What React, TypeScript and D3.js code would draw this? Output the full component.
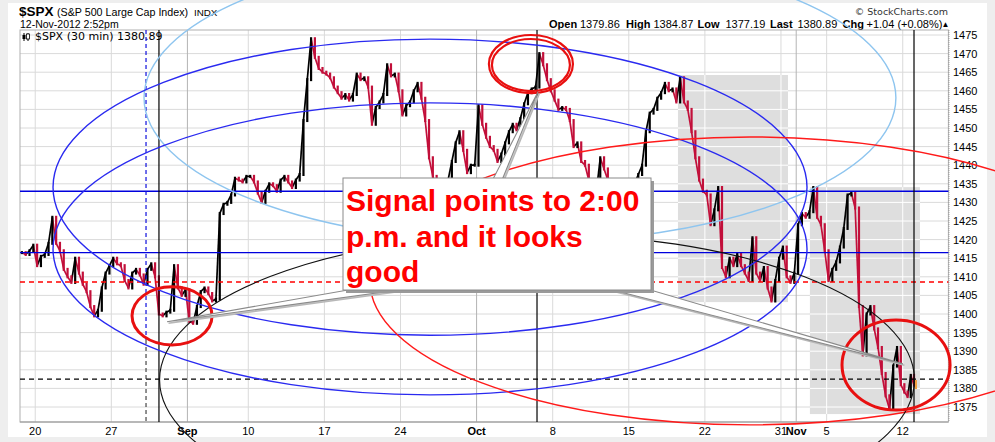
import React from 'react';
import * as d3 from 'd3';

// trading sessions shown (MM-DD, 2012); Oct 29-30 closed (Sandy)
const tradingDays = [
  '08-17',
  '08-20', '08-21', '08-22', '08-23', '08-24',
  '08-27', '08-28', '08-29', '08-30', '08-31',
  '09-04', '09-05', '09-06', '09-07',
  '09-10', '09-11', '09-12', '09-13', '09-14',
  '09-17', '09-18', '09-19', '09-20', '09-21',
  '09-24', '09-25', '09-26', '09-27', '09-28',
  '10-01', '10-02', '10-03', '10-04', '10-05',
  '10-08', '10-09', '10-10', '10-11', '10-12',
  '10-15', '10-16', '10-17', '10-18', '10-19',
  '10-22', '10-23', '10-24', '10-25', '10-26',
  '10-31',
  '11-01', '11-02',
  '11-05', '11-06', '11-07', '11-08', '11-09',
  '11-12',
];

// four intraday readings per session (30 min bars grouped)
const prices = [
  [1416.5, 1416, 1417, 1418.5],
  [1413, 1415.5, 1416, 1419],
  [1426, 1419, 1417, 1412],
  [1410, 1408.5, 1415, 1411],
  [1408, 1406, 1402, 1399.5],
  [1401, 1407, 1411, 1413],
  [1415, 1413.5, 1413, 1409],
  [1407, 1411, 1412, 1410.5],
  [1408, 1412, 1413.5, 1410],
  [1400, 1399.5, 1400.5, 1401],
  [1413, 1407, 1405, 1406.5],
  [1398, 1397.5, 1402, 1406],
  [1407, 1405.5, 1403.5, 1404],
  [1427, 1429.5, 1430, 1432],
  [1436.5, 1436, 1435.5, 1437],
  [1437, 1435.5, 1432.5, 1430],
  [1433, 1435, 1434.5, 1433],
  [1436, 1437, 1435.5, 1434],
  [1436, 1437.5, 1452, 1463],
  [1474, 1469, 1466, 1465],
  [1464.5, 1463.5, 1461, 1459.5],
  [1458, 1459, 1457.5, 1459],
  [1464.5, 1463, 1463.5, 1461],
  [1451, 1455.5, 1457, 1459],
  [1467, 1464, 1464.5, 1460],
  [1453.5, 1456, 1457, 1460],
  [1462, 1458, 1452, 1442],
  [1437, 1434, 1432, 1433.5],
  [1436, 1441, 1446, 1449],
  [1444, 1438, 1440, 1440],
  [1456, 1451, 1447.5, 1445],
  [1444, 1441, 1443, 1446],
  [1449, 1451, 1449.5, 1452.5],
  [1456.5, 1459.5, 1460.5, 1461],
  [1470, 1467, 1463, 1460],
  [1457.5, 1455, 1455.5, 1455],
  [1452, 1445, 1446, 1441],
  [1440, 1436, 1434, 1433],
  [1442, 1439, 1436, 1433],
  [1436, 1432, 1429, 1428.5],
  [1431, 1435, 1437.5, 1440],
  [1449, 1454, 1455, 1458],
  [1459.5, 1462, 1460, 1460.5],
  [1457, 1463.5, 1457, 1455],
  [1449, 1442, 1436, 1433],
  [1432, 1424, 1428, 1434],
  [1412.5, 1410, 1415, 1413],
  [1416, 1413, 1411, 1409],
  [1420.5, 1411, 1409, 1412.5],
  [1407, 1403.5, 1409, 1415],
  [1418, 1410, 1408.5, 1411],
  [1424, 1427, 1426, 1427.5],
  [1434, 1426, 1424, 1417],
  [1409, 1412, 1414, 1418],
  [1423, 1432, 1432.5, 1428.5],
  [1402, 1389, 1400, 1402],
  [1396, 1391, 1384, 1378],
  [1374.5, 1386, 1391, 1381],
  [1379, 1377.8, 1383.5, 1380.9],
];
const barsPerSession = 13;
const barsLastSession = 11;

const tickDays = ['08-20', '08-27', '09-04', '09-10', '09-17', '09-24', '10-01', '10-08', '10-15', '10-22', '10-31', '11-01', '11-05', '11-12'];
const tickLabels = ['20', '27', 'Sep', '10', '17', '24', 'Oct', '8', '15', '22', '31', 'Nov', '5', '12'];
const priceTicks = d3.range(1375, 1476, 5);

// annotations, in chart units: [session, price, half-sessions, half-points]
const lightBlueEllipse = [32.85, 1458.1, 24.7, 39.0];
const blueEllipses = [
  [26.94, 1434.1, 24.77, 39.8],
  [26.94, 1417.5, 24.77, 39.25],
];
const redEllipse = [47.96, 1408.9, 24.97, 38.7];
const blackEllipse = [33.97, 1382.3, 24.8, 39.25];
const circled = [
  [9.99, 1399.5, 2.63, 7.8],
  [33.57, 1467.2, 2.76, 7.8],
  [57.56, 1386.3, 3.55, 12.1],
];
const levelPrices = [1433, 1416.5, 1408.6, 1382.5];
const markerSessions = [8.28, 9.13, 33.97, 58.74];
// shaded zones: [from session, to session, top price, bottom price]
const zones = [
  [43.23, 50.46, 1464.25, 1403.2],
  [51.9, 59.13, 1434.1, 1373.1],
];
const calloutTips = [
  [9.66, 1397.9],
  [34.03, 1459.7],
  [58.01, 1386.6],
];
const calloutLines = ['Signal points to 2:00', 'p.m. and it looks', 'good'];

const SANS = 'Liberation Sans, Arial, sans-serif';
const VERD = 'DejaVu Sans, Verdana, sans-serif';

export default function App() {
  const left = 20, right = 948.4, top = 30, bottom = 422;
  const x = d3.scaleLinear().domain([0, 61]).range([left, right]);
  const y = d3.scaleLinear().domain([1375, 1475]).range([407, 35]);

  const samples = prices.flatMap((day, i) => {
    const frac = i === prices.length - 1 ? barsLastSession / barsPerSession : 1;
    return day.map((p, k) => ({ t: i + ((k + 0.5) / day.length) * frac, p }));
  });
  const bw = 2.2;

  const ell = (e: number[]) => ({
    cx: x(e[0]),
    cy: y(e[1]),
    rx: x(e[0] + e[2]) - x(e[0]),
    ry: y(e[1] - e[3]) - y(e[1]),
  });

  const dayX = (d: string) => x(tradingDays.indexOf(d));
  const vGrid = tickDays.map((d, i) => ({ x: dayX(d), month: /[A-Z]/.test(tickLabels[i]) }));

  const gridLines = (stroke: string, monthStroke: string) => (
    <>
      {priceTicks.map((p) => (
        <line key={'h' + p} x1={left} x2={right} y1={y(p)} y2={y(p)} stroke={stroke} strokeWidth={1} />
      ))}
      {vGrid.map((g, i) => (
        <line key={'v' + i} x1={g.x} x2={g.x} y1={top} y2={bottom} stroke={g.month ? monthStroke : stroke} strokeWidth={1} />
      ))}
    </>
  );

  const box = { x: 343, y: 178, w: 308, h: 112 };
  const tip = calloutTips.map(([t, p]) => [x(t), y(p)]);
  const pointers = [
    [tip[0], [365, 287], [420, 287]],
    [tip[1], [490, 185], [500, 185]],
    [tip[2], [630, 284], [595, 285.5]],
  ];
  const pts = (a: number[][]) => a.map((q) => q.join(',')).join(' ');

  const last = samples[samples.length - 1];
  const RED = '#c20f3a';

  return (
    <svg width={995} height={442} style={{ position: 'absolute', left: 0, top: 0 }} fontFamily={SANS}>
      <defs>
        <clipPath id="plotClip">
          <rect x={left} y={top} width={right - left} height={bottom - top} />
        </clipPath>
        <clipPath id="zoneClip">
          {zones.map((z, i) => (
            <rect key={i} x={x(z[0])} y={y(z[2])} width={x(z[1]) - x(z[0])} height={y(z[3]) - y(z[2])} />
          ))}
        </clipPath>
      </defs>
      <rect width={995} height={442} fill="#eeeeee" />
      <rect x={8} y={3} width={979} height={434} fill="#ffffff" />

      {/* header */}
      <text x={19} y={16} fontSize={13.5} fontWeight="bold">$SPX</text>
      <text x={57} y={16} fontSize={10.7}>(S&amp;P 500 Large Cap Index)</text>
      <text x={194} y={16} fontSize={9.8}>INDX</text>
      <text x={20} y={27.5} fontSize={10.5}>12-Nov-2012 2:52pm</text>
      <text x={948} y={15} fontSize={9.5} fontFamily={VERD} textAnchor="end" fill="#333">© StockCharts.com</text>
      <g fontSize={11}>
        <text x={549} y={27.5} fontWeight="bold">Open</text>
        <text x={580} y={27.5}>1379.86</text>
        <text x={626} y={27.5} fontWeight="bold">High</text>
        <text x={653.5} y={27.5}>1384.87</text>
        <text x={697.5} y={27.5} fontWeight="bold">Low</text>
        <text x={725.5} y={27.5}>1377.19</text>
        <text x={770} y={27.5} fontWeight="bold">Last</text>
        <text x={797.5} y={27.5}>1380.89</text>
        <text x={842.5} y={27.5} fontWeight="bold">Chg</text>
        <text x={866.5} y={27.5}>+1.04 (+0.08%)</text>
        <text x={941.5} y={27} fontSize={8}>▲</text>
      </g>

      {/* grid */}
      {gridLines('#dadada', '#b4b4b4')}
      {zones.map((z, i) => (
        <rect key={i} x={x(z[0])} y={y(z[2])} width={x(z[1]) - x(z[0])} height={y(z[3]) - y(z[2])} fill="#dedede" />
      ))}
      <g clipPath="url(#zoneClip)">{gridLines('#ffffff', '#ffffff')}</g>
      <rect x={left} y={top} width={right - left} height={bottom - top} fill="none" stroke="#b0b0b0" />
      <line x1={left} x2={right} y1={bottom} y2={bottom} stroke="#999" />
      <line x1={right + 0.5} x2={right + 0.5} y1={top} y2={bottom} stroke="#999" strokeDasharray="1,1" />

      {/* axes labels */}
      {priceTicks.map((p) => (
        <text key={p} x={953} y={y(p) + 4} fontSize={11}>{p}</text>
      ))}
      {tickDays.map((d, i) => {
        const month = /[A-Z]/.test(tickLabels[i]);
        return (
          <text key={d} x={dayX(d)} y={435} fontSize={11} textAnchor="middle" fontWeight={month ? 'bold' : 'normal'}>
            {tickLabels[i]}
          </text>
        );
      })}

      {/* legend */}
      <g>
        <line x1={24} x2={24} y1={33} y2={41} stroke="#000" />
        <rect x={22.5} y={35} width={3} height={4} fill="#000" />
        <line x1={28} x2={28} y1={33} y2={41} stroke="#000" />
        <rect x={26.5} y={34} width={3} height={5} fill="#fff" stroke="#000" strokeWidth={0.8} />
        <text x={35} y={40} fontSize={11} fontFamily={VERD}>$SPX (30 min) 1380.89</text>
      </g>

      {/* price: connecting strokes plus a bar per reading */}
      <g clipPath="url(#plotClip)">
        {samples.slice(1).map((s, j) => {
          const prev = samples[j];
          return (
            <line
              key={'s' + j}
              x1={x(prev.t)}
              y1={y(prev.p)}
              x2={x(s.t)}
              y2={y(s.p)}
              stroke={s.p >= prev.p ? '#000000' : RED}
              strokeWidth={1.7}
            />
          );
        })}
        {samples.map((s, j) => {
          const prev = j > 0 ? samples[j - 1].p : s.p;
          const y0 = y(Math.max(prev, s.p));
          const y1 = y(Math.min(prev, s.p));
          const up = s.p >= prev;
          return (
            <rect
              key={j}
              x={x(s.t) - bw / 2}
              y={y0 - 1.5}
              width={bw}
              height={Math.max(y1 - y0, 0) + 3}
              fill={up ? '#000000' : RED}
            />
          );
        })}
        <rect x={x(last.t) + 1} y={y(last.p) - 5} width={2} height={9} fill="#f0a040" />
      </g>

      {/* annotations */}
      {levelPrices.map((p, i) => (
        <line
          key={p}
          x1={left}
          x2={right}
          y1={y(p)}
          y2={y(p)}
          stroke={i < 2 ? '#0000dd' : i === 2 ? '#ff0000' : '#000000'}
          strokeWidth={1.3}
          strokeDasharray={i < 2 ? undefined : '5,4'}
        />
      ))}
      <line x1={x(markerSessions[0])} x2={x(markerSessions[0])} y1={top} y2={340} stroke="#1010dd" strokeWidth={1.2} strokeDasharray="4,3" />
      <line x1={x(markerSessions[0])} x2={x(markerSessions[0])} y1={340} y2={bottom} stroke="#222" strokeWidth={1} strokeDasharray="4,3" />
      {markerSessions.slice(1).map((t) => (
        <line key={t} x1={x(t)} x2={x(t)} y1={top} y2={bottom} stroke="#000" strokeWidth={1.2} />
      ))}

      <ellipse {...ell(lightBlueEllipse)} fill="none" stroke="#8ec5ef" strokeWidth={1.4} />
      {blueEllipses.map((e, i) => (
        <ellipse key={i} {...ell(e)} fill="none" stroke="#2a2af0" strokeWidth={1.4} />
      ))}
      <ellipse {...ell(redEllipse)} fill="none" stroke="#ff1a1a" strokeWidth={1.4} />
      <ellipse {...ell(blackEllipse)} fill="none" stroke="#111" strokeWidth={1.1} />
      {circled.map((e, i) => {
        const a = ell(e);
        return (
          <g key={i}>
            <ellipse {...a} fill="none" stroke="#e81010" strokeWidth={i === 1 ? 2.2 : 3} />
            {i === 1 && <ellipse cx={a.cx} cy={a.cy + 1} rx={a.rx - 3} ry={a.ry - 3} fill="none" stroke="#e81010" strokeWidth={2.2} />}
          </g>
        );
      })}

      {/* callout */}
      {pointers.map((p, i) => (
        <g key={i}>
          <polygon points={pts(p.map((q) => [q[0] + 1.5, q[1] + 1.5]))} fill="#cfcfcf" stroke="#b8b8b8" strokeWidth={1.5} />
          <polygon points={pts(p)} fill="#ffffff" stroke="#8a8a8a" strokeWidth={1.1} />
        </g>
      ))}
      <rect x={box.x + 3} y={box.y + 3} width={box.w} height={box.h} fill="#9a9a9a" />
      <rect x={box.x} y={box.y} width={box.w} height={box.h} fill="#ffffff" stroke="#8a8a8a" strokeWidth={1} />
      {calloutLines.map((l, i) => (
        <text key={i} x={box.x + 3} y={box.y + 33 + i * 35.5} fontSize={30} fontWeight="bold" fill="#ff0000">
          {l}
        </text>
      ))}
    </svg>
  );
}
